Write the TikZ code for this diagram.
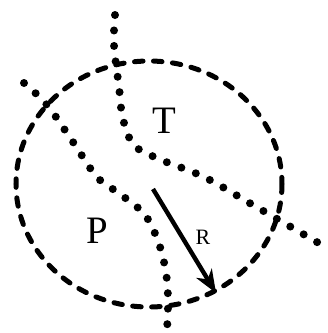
\documentclass[tikz,border=0pt]{standalone}
\usepackage{fontspec}
\setmainfont{Liberation Serif}
\usetikzlibrary{arrows.meta}
\begin{document}
\begin{tikzpicture}[x=1bp,y=-1bp,
  boundary/.style={line width=5bp, dash pattern=on 8.5bp off 10.5bp, line cap=round},
  dotline/.style={line width=8bp, dash pattern=on 0bp off 15.5bp, line cap=round},
  radius arrow/.style={line width=4.4bp, -{Stealth[length=23bp,width=18bp,inset=7bp]}},
  biglabel/.style={font=\fontsize{39}{44}\selectfont, inner sep=0pt},
  smalllabel/.style={font=\fontsize{22}{26}\selectfont, inner sep=0pt}]
\useasboundingbox (0,0) rectangle (328,333);
% circle boundary
\coordinate (c) at (149,184);
\draw[boundary] (c) ellipse [x radius=133, y radius=123];
% dotted lines
\draw[dotline] plot[smooth, tension=0.6] coordinates {(115,15) (114,45) (119,87) (123,119) (134,145) (159,159) (204,177) (253,205) (322,245)};
\draw[dotline] plot[smooth, tension=0.6] coordinates {(24,83) (47,105) (73,142) (97,177) (120,194) (145,215) (159,244) (166,273) (168,300) (167,330)};
% labels
\node[biglabel] (T) at (164.5,121) {T};
\node[biglabel] (P) at (97.5,230.5) {P};
\node[smalllabel] (R) at (203,237.5) {R};
% radius arrow
\coordinate (a0) at (153,189);
\coordinate (a1) at (216,293);
\draw[radius arrow] (a0) -- (a1);
\end{tikzpicture}
\end{document}
